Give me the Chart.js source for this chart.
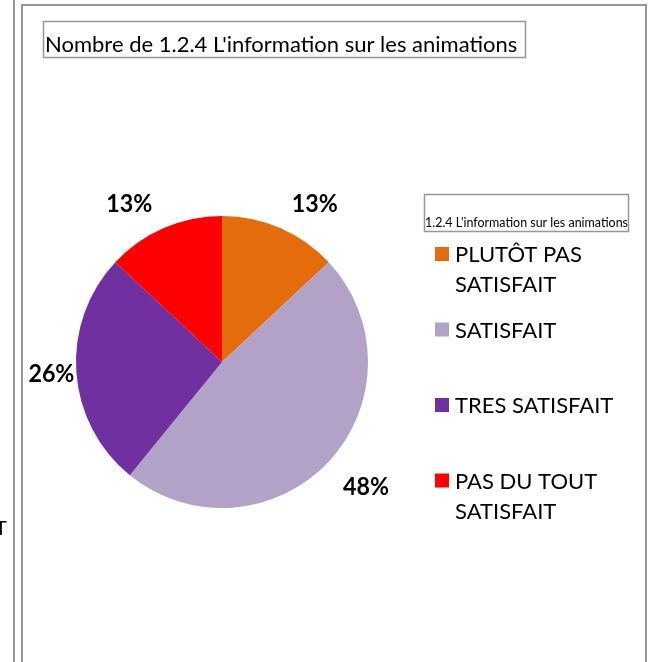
<!DOCTYPE html>
<html lang="fr">
<head>
<meta charset="UTF-8">
<title>1.2.4 L'information sur les animations</title>
<script src="https://cdn.jsdelivr.net/npm/chart.js"></script>
<style>
    body { margin: 0; background: #fff; }
    canvas { display: block; }
</style>
</head>
<body>
<canvas id="pie" width="652" height="662"></canvas>
<script>
    // data (counts out of 23)
    const categories = ['PLUTÔT PAS SATISFAIT', 'SATISFAIT', 'TRES SATISFAIT', 'PAS DU TOUT SATISFAIT'];
    const counts = [3, 11, 6, 3];
    const colors = ['#E46C0A', '#B3A2C7', '#7030A0', '#FF0000'];
    const chartTitle = "Nombre de 1.2.4 L'information sur les animations";
    const legendTitle = "1.2.4 L'information sur les animations";

    const FONT = 'Lato, "Open Sans", sans-serif';
    const GRAY = '#979797';

    // label placement tweaks (angle shift in degrees, distance from centre)
    const labelShift = [7, -2, 0, -7];
    const labelDist = [183, 191, 171, 183];

    function wrap(ctx, text, maxW) {
        const words = text.split(' ');
        const lines = [];
        let cur = '';
        words.forEach(w => {
            const t = cur ? cur + ' ' + w : w;
            if (ctx.measureText(t).width > maxW && cur) {
                lines.push(cur);
                cur = w;
            } else cur = t;
        });
        lines.push(cur);
        return lines;
    }

    const frame = {
        id: 'frame',
        beforeDraw(chart) {
            const ctx = chart.ctx;
            ctx.save();
            ctx.fillStyle = '#fff';
            ctx.fillRect(0, 0, chart.width, chart.height);
            ctx.strokeStyle = GRAY;
            ctx.lineWidth = 2;
            ctx.beginPath();
            ctx.moveTo(14, 0); ctx.lineTo(14, 662);
            ctx.moveTo(22, 662); ctx.lineTo(22, 5); ctx.lineTo(646, 5); ctx.lineTo(646, 662);
            ctx.stroke();
            // cut-off text fragment on the left edge
            ctx.fillStyle = '#000';
            ctx.font = '20px ' + FONT;
            ctx.textBaseline = 'alphabetic';
            ctx.fillText('T', -5, 535);
            ctx.restore();
        },
        afterDraw(chart) {
            const ctx = chart.ctx;
            ctx.save();
            ctx.textBaseline = 'alphabetic';

            // title box
            ctx.strokeStyle = GRAY;
            ctx.lineWidth = 1.5;
            ctx.strokeRect(43.5, 21.5, 482, 36);
            ctx.fillStyle = '#000';
            ctx.font = '22px ' + FONT;
            ctx.textAlign = 'left';
            ctx.fillText(chartTitle, 45, 52, 478);

            // percentage labels
            const meta = chart.getDatasetMeta(0);
            const total = counts.reduce((a, b) => a + b, 0);
            ctx.font = 'bold 25px ' + FONT;
            ctx.textAlign = 'center';
            ctx.textBaseline = 'middle';
            meta.data.forEach((arc, i) => {
                const mid = (arc.startAngle + arc.endAngle) / 2 + labelShift[i] * Math.PI / 180;
                const x = arc.x + Math.cos(mid) * labelDist[i];
                const y = arc.y + Math.sin(mid) * labelDist[i];
                ctx.fillText(Math.round(counts[i] / total * 100) + '%', x, y, 46);
            });

            // legend
            ctx.textBaseline = 'alphabetic';
            ctx.strokeRect(424.5, 194.5, 204, 37);
            ctx.textAlign = 'left';
            ctx.font = '12.5px ' + FONT;
            ctx.fillText(legendTitle, 425, 227, 203);

            ctx.font = '22px ' + FONT;
            categories.forEach((c, i) => {
                const top = 247 + i * 75.5;
                ctx.fillStyle = colors[i];
                ctx.fillRect(435, top, 14, 14);
                ctx.fillStyle = '#000';
                wrap(ctx, c, 172).forEach((ln, k) => {
                    ctx.fillText(ln, 455, top + 15 + k * 30);
                });
            });
            ctx.restore();
        }
    };

    new Chart(document.getElementById('pie'), {
        type: 'pie',
        data: {
            labels: categories,
            datasets: [{
                data: counts,
                backgroundColor: colors,
                borderWidth: 0
            }]
        },
        options: {
            responsive: false,
            animation: false,
            layout: { padding: { left: 76, right: 284, top: 216, bottom: 154 } },
            plugins: {
                legend: { display: false },
                tooltip: { enabled: false }
            }
        },
        plugins: [frame]
    });
</script>
</body>
</html>
